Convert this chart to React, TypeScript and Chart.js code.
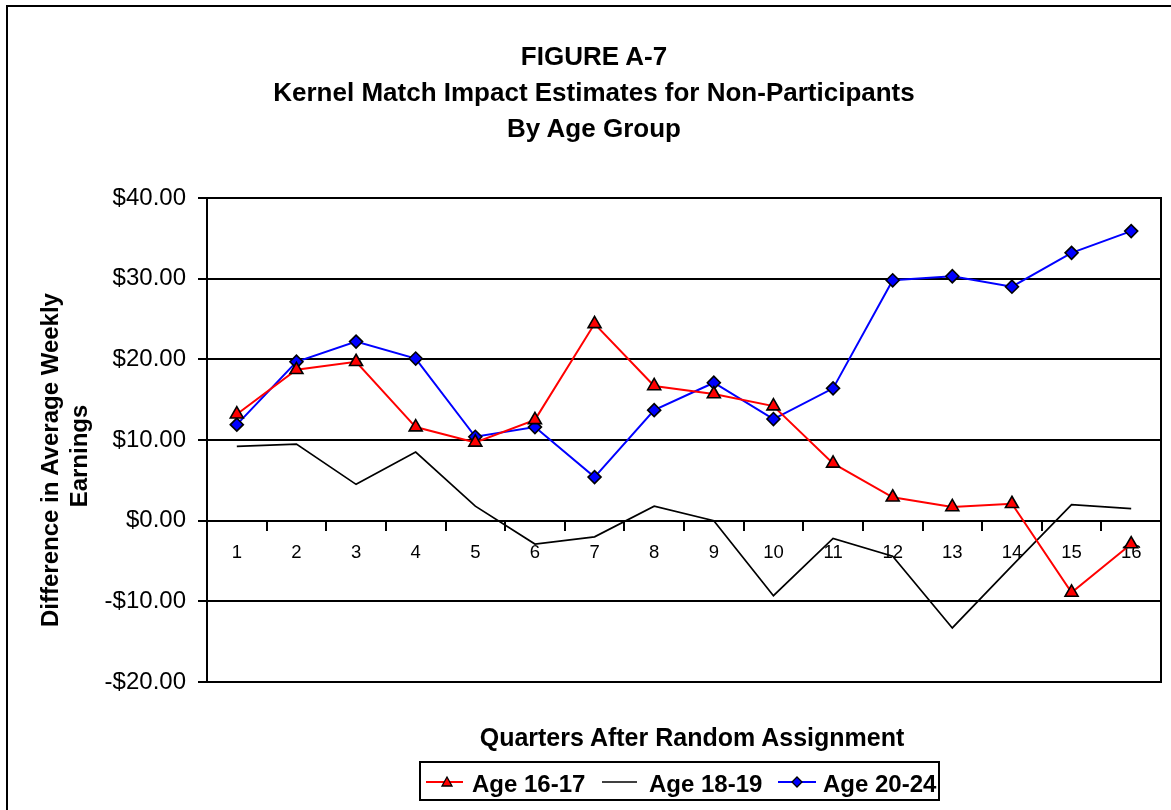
import React, { useEffect, useRef } from 'react';
import { Chart, registerables } from 'chart.js';

Chart.register(...registerables);

// ---------- data ----------
const quarters = ['1', '2', '3', '4', '5', '6', '7', '8', '9', '10', '11', '12', '13', '14', '15', '16'];
const age1617 = [13.2, 18.7, 19.7, 11.6, 9.7, 12.5, 24.4, 16.7, 15.7, 14.2, 7.1, 2.9, 1.7, 2.1, -8.9, -2.9];
const age1819 = [9.2, 9.5, 4.5, 8.5, 1.8, -2.9, -2.0, 1.8, 0.0, -9.3, -2.2, -4.4, -13.3, -5.6, 2.0, 1.5];
const age2024 = [11.9, 19.7, 22.2, 20.1, 10.4, 11.6, 5.4, 13.7, 17.1, 12.6, 16.4, 29.8, 30.3, 29.0, 33.2, 35.9];
const seriesNames = ['Age 16-17', 'Age 18-19', 'Age 20-24'];
const yMin = -20;
const yMax = 40;
const yStep = 10;
const titleLines = ['FIGURE A-7', 'Kernel Match Impact Estimates for Non-Participants', 'By Age Group'];
const xTitle = 'Quarters After Random Assignment';
const yTitleLines = ['Difference in Average Weekly', 'Earnings'];

const FONT = '"Liberation Sans", Arial, Helvetica, sans-serif';

const fmtMoney = (v: number) => (v < 0 ? '-$' : '$') + Math.abs(v).toFixed(2);

function HText(props: { text: string; cx?: number; left?: number; baseline: number; size: number; bold?: boolean }) {
  const { text, cx, left, baseline, size, bold } = props;
  const top = baseline - 0.8465 * size;
  const style: React.CSSProperties = {
    position: 'absolute',
    top,
    height: size,
    lineHeight: size + 'px',
    fontSize: size,
    fontFamily: FONT,
    fontWeight: bold ? 'bold' : 'normal',
    whiteSpace: 'nowrap',
    color: '#000',
  };
  if (cx !== undefined) {
    style.left = cx - 400;
    style.width = 800;
    style.textAlign = 'center';
  } else {
    style.left = left;
  }
  return <div style={style}>{text}</div>;
}

function VText(props: { text: string; baselineX: number; cy: number; size: number }) {
  const { text, baselineX, cy, size } = props;
  const cx = baselineX - (0.8465 * size - size / 2);
  const W = 500;
  return (
    <div
      style={{
        position: 'absolute',
        left: cx - W / 2,
        top: cy - size / 2,
        width: W,
        height: size,
        lineHeight: size + 'px',
        fontSize: size,
        fontFamily: FONT,
        fontWeight: 'bold',
        textAlign: 'center',
        whiteSpace: 'nowrap',
        transform: 'rotate(-90deg)',
        transformOrigin: 'center center',
        color: '#000',
      }}
    >
      {text}
    </div>
  );
}

export default function App() {
  const ref = useRef<HTMLCanvasElement>(null);

  useEffect(() => {
    if (!ref.current) return;
    const chart = new Chart(ref.current, {
      type: 'line',
      data: {
        labels: quarters,
        datasets: [
          {
            label: seriesNames[0],
            data: age1617,
            borderColor: '#FF0000',
            borderWidth: 2,
            pointStyle: 'triangle',
            pointRadius: 7.5,
            pointBackgroundColor: '#FF0000',
            pointBorderColor: '#000000',
            pointBorderWidth: 1.6,
            tension: 0,
          },
          {
            label: seriesNames[1],
            data: age1819,
            borderColor: '#000000',
            borderWidth: 1.7,
            pointRadius: 0,
            tension: 0,
          },
          {
            label: seriesNames[2],
            data: age2024,
            borderColor: '#0000FF',
            borderWidth: 2,
            pointStyle: 'rectRot',
            pointRadius: 6.5,
            pointBackgroundColor: '#0000FF',
            pointBorderColor: '#000000',
            pointBorderWidth: 1.6,
            tension: 0,
          },
        ],
      },
      options: {
        animation: false,
        responsive: false,
        devicePixelRatio: 1,
        layout: { padding: { left: 0, top: 198, right: 10, bottom: 128 } },
        plugins: {
          legend: { display: false },
          title: { display: false },
          tooltip: { enabled: false },
        },
        scales: {
          x: {
            type: 'category',
            offset: true,
            position: { y: 0 } as any,
            grid: {
              offset: true,
              drawOnChartArea: false,
              drawTicks: true,
              tickLength: 9,
              color: '#000000',
              lineWidth: 2,
            },
            border: { display: true, color: '#000000', width: 2 },
            ticks: {
              font: { family: FONT, size: 18.5 },
              color: '#000000',
              padding: 12,
              maxRotation: 0,
              autoSkip: false,
            },
          },
          y: {
            min: yMin,
            max: yMax,
            ticks: {
              stepSize: yStep,
              callback: (v: any) => fmtMoney(Number(v)),
              font: { family: FONT, size: 24 },
              color: '#000000',
              padding: 12,
            },
            grid: { color: '#000000', lineWidth: 2, tickLength: 9, drawTicks: true },
            border: { display: true, color: '#000000', width: 2 },
            afterFit: (s: any) => {
              s.width = 207;
            },
          },
          y2: {
            position: 'right',
            display: true,
            min: yMin,
            max: yMax,
            ticks: { display: false },
            grid: { display: false, drawTicks: false },
            border: { display: true, color: '#000000', width: 2 },
            afterFit: (s: any) => {
              s.width = 0;
            },
          },
        },
      },
    });
    return () => chart.destroy();
  }, []);

  return (
    <div style={{ position: 'absolute', left: 0, top: 0, width: 1171, height: 810, overflow: 'hidden', background: '#fff' }}>
      <div
        style={{
          position: 'absolute',
          left: 6,
          top: 5,
          width: 1400,
          height: 1000,
          borderTop: '2px solid #000',
          borderLeft: '2px solid #000',
        }}
      />
      <canvas ref={ref} width={1171} height={810} style={{ position: 'absolute', left: 0, top: 0, width: 1171, height: 810 }} />

      <HText text={titleLines[0]} cx={594} baseline={65} size={26} bold />
      <HText text={titleLines[1]} cx={594} baseline={101} size={26} bold />
      <HText text={titleLines[2]} cx={594} baseline={137} size={26} bold />

      <VText text={yTitleLines[0]} baselineX={58} cy={460} size={24} />
      <VText text={yTitleLines[1]} baselineX={87} cy={456} size={24} />

      <HText text={xTitle} cx={692} baseline={746} size={25} bold />

      {/* legend */}
      <div
        style={{
          position: 'absolute',
          left: 419,
          top: 761,
          width: 521,
          height: 40,
          boxSizing: 'border-box',
          border: '2px solid #000',
        }}
      />
      <svg width={1171} height={810} style={{ position: 'absolute', left: 0, top: 0, pointerEvents: 'none' }}>
        <line x1={426} y1={782} x2={463} y2={782} stroke="#FF0000" strokeWidth={2} />
        <polygon points="447,777 442,786 452,786" fill="#FF0000" stroke="#000" strokeWidth={1.3} />
        <line x1={602} y1={782} x2={637} y2={782} stroke="#000" strokeWidth={1.7} />
        <line x1={778} y1={782} x2={816} y2={782} stroke="#0000FF" strokeWidth={2} />
        <polygon points="797,777 802,782 797,787 792,782" fill="#0000FF" stroke="#000" strokeWidth={1.3} />
      </svg>
      <HText text={seriesNames[0]} left={472} baseline={792} size={24} bold />
      <HText text={seriesNames[1]} left={649} baseline={792} size={24} bold />
      <HText text={seriesNames[2]} left={823} baseline={792} size={24} bold />
    </div>
  );
}
